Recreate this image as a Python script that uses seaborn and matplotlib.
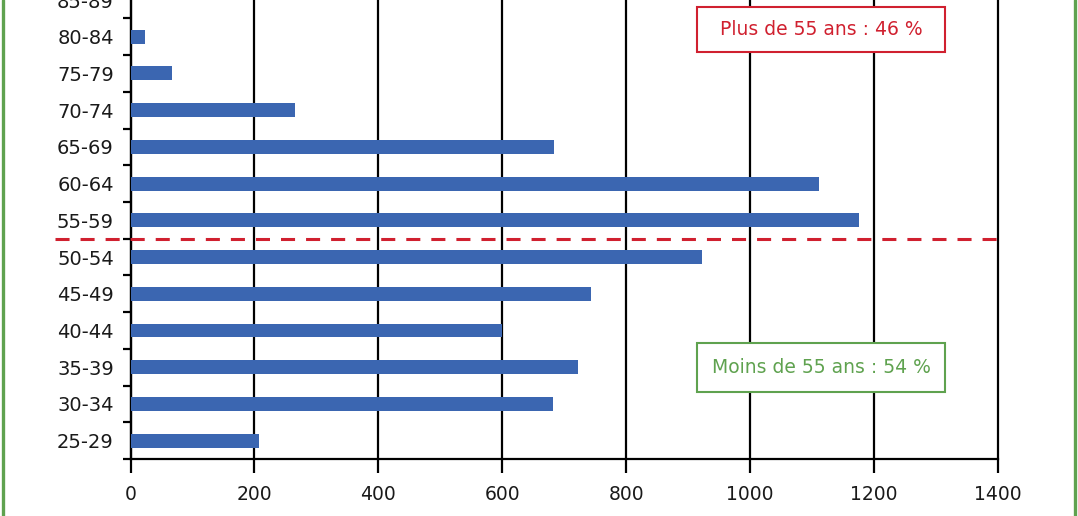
import matplotlib
matplotlib.use("Agg")
import matplotlib.pyplot as plt
from matplotlib.lines import Line2D
from matplotlib.patches import Rectangle
import seaborn as sns
import pandas as pd

# ---- data ----
age_groups = ['85-89', '80-84', '75-79', '70-74', '65-69', '60-64', '55-59',
              '50-54', '45-49', '40-44', '35-39', '30-34', '25-29']
counts = [0, 23, 67, 266, 684, 1111, 1175, 922, 743, 600, 722, 682, 208]
x_ticks = [0, 200, 400, 600, 800, 1000, 1200, 1400]
label_over = "Plus de 55 ans : 46 %"
label_under = "Moins de 55 ans : 54 %"

BLUE = "#3b66b1"
RED = "#d0202f"
GREEN = "#5fa24f"
INK = "#1a1a1a"

sns.set_style("white")
plt.rcParams['font.family'] = ['DejaVu Sans']

df = pd.DataFrame({"age": age_groups, "n": counts})

fig = plt.figure(figsize=(10.78, 5.16), dpi=100)
W, H = 1078, 516
ax_left, ax_right, ax_bottom, ax_top = 130.5, 998, 459, 0
ax = fig.add_axes([ax_left / W, (H - ax_bottom) / H,
                   (ax_right - ax_left) / W, (ax_bottom - ax_top) / H])

sns.barplot(data=df, x="n", y="age", order=age_groups, orient="h",
            color=BLUE, saturation=1, width=0.38, linewidth=0, ax=ax, zorder=3)

ax.set_xlim(0, 1400)
ax.set_ylim(len(age_groups) - 0.5, 0.0)
ax.set_xlabel("")
ax.set_ylabel("")

# grid
ax.set_xticks(x_ticks)
ax.set_xticklabels([str(t) for t in x_ticks])
ax.xaxis.grid(True, color="black", linewidth=1.6)
ax.yaxis.grid(False)
ax.set_axisbelow(True)
for gl in ax.get_xgridlines():
    gl.set_clip_on(False)

# spines
for s in ["top", "right"]:
    ax.spines[s].set_visible(False)
for s in ["left", "bottom"]:
    ax.spines[s].set_color("black")
    ax.spines[s].set_linewidth(1.6)

# ticks
ax.tick_params(axis="x", which="major", bottom=True, direction="out", length=10,
               width=1.6, color="black", labelsize=13.5, labelcolor=INK, pad=9)
ax.tick_params(axis="y", which="major", left=True, length=0, labelsize=14,
               labelcolor=INK, pad=12)
ax.set_yticks([i + 0.5 for i in range(len(age_groups))], minor=True)
ax.tick_params(axis="y", which="minor", left=True, direction="out", length=6,
               width=1.6, color="black")
for lbl in ax.get_yticklabels():
    lbl.set_clip_on(False)

# separator line at 55
ax.axhline(age_groups.index('55-59') + 0.5, xmin=-0.087, xmax=1.0, color=RED,
           linewidth=2.2, linestyle=(0, (4.6, 3.6)), clip_on=False, zorder=4)

# annotation boxes
bx0, bw = (697 - ax_left) / (ax_right - ax_left), (945 - 697) / (ax_right - ax_left)
def box(y0, y1, text, color):
    a0 = (ax_bottom - y1) / (ax_bottom - ax_top)
    a1 = (ax_bottom - y0) / (ax_bottom - ax_top)
    ax.add_patch(Rectangle((bx0, a0), bw, a1 - a0, transform=ax.transAxes,
                           facecolor="white", edgecolor=color, linewidth=1.5,
                           zorder=5, clip_on=False))
    ax.text(bx0 + bw / 2, (a0 + a1) / 2, text, transform=ax.transAxes,
            ha="center", va="center", color=color, fontsize=13.5, zorder=6)

box(7, 52, label_over, RED)
box(343, 392, label_under, GREEN)

# green frame sides
fig.add_artist(Line2D([2.5 / W, 2.5 / W], [0, 1], transform=fig.transFigure,
                      color=GREEN, linewidth=2.4))
fig.add_artist(Line2D([1075 / W, 1075 / W], [0, 1], transform=fig.transFigure,
                      color=GREEN, linewidth=2.4))

fig.savefig("out.png", dpi=100)
